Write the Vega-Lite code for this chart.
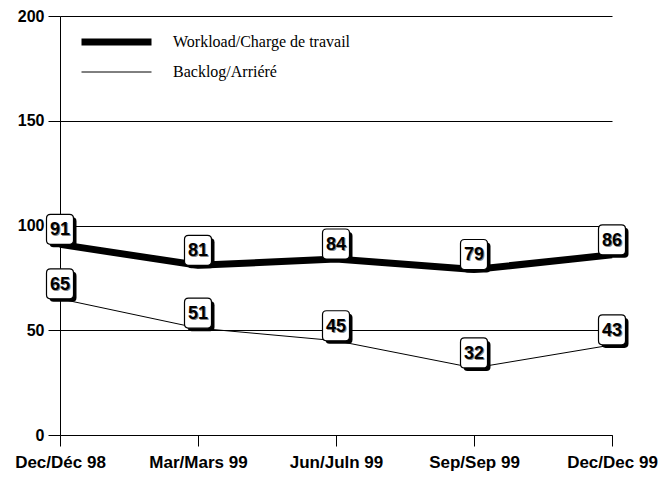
{
  "$schema": "https://vega.github.io/schema/vega-lite/v6.json",
  "width": 552,
  "height": 419,
  "autosize": "none",
  "padding": {"left": 60, "top": 16, "right": 60, "bottom": 42},
  "background": "white",
  "config": {
    "view": {"stroke": null},
    "axis": {"domainColor": "black", "tickColor": "black", "gridColor": "black", "gridOpacity": 1, "domainWidth": 1, "tickWidth": 1, "gridWidth": 1}
  },
  "data": {
    "values": [
      {"date": "Dec/Déc 98", "series": "Workload/Charge de travail", "value": 91},
      {"date": "Mar/Mars 99", "series": "Workload/Charge de travail", "value": 81},
      {"date": "Jun/Juln 99", "series": "Workload/Charge de travail", "value": 84},
      {"date": "Sep/Sep 99", "series": "Workload/Charge de travail", "value": 79},
      {"date": "Dec/Dec 99", "series": "Workload/Charge de travail", "value": 86},
      {"date": "Dec/Déc 98", "series": "Backlog/Arriéré", "value": 65},
      {"date": "Mar/Mars 99", "series": "Backlog/Arriéré", "value": 51},
      {"date": "Jun/Juln 99", "series": "Backlog/Arriéré", "value": 45},
      {"date": "Sep/Sep 99", "series": "Backlog/Arriéré", "value": 32},
      {"date": "Dec/Dec 99", "series": "Backlog/Arriéré", "value": 43}
    ]
  },
  "encoding": {
    "x": {
      "field": "date", "type": "ordinal",
      "sort": ["Dec/Déc 98", "Mar/Mars 99", "Jun/Juln 99", "Sep/Sep 99", "Dec/Dec 99"],
      "scale": {"type": "point", "padding": 0},
      "axis": {"title": null, "labelAngle": 0, "labelFont": "Liberation Sans", "labelFontWeight": "bold", "labelFontSize": 17, "labelColor": "black", "tickSize": 11, "labelPadding": 8, "grid": false}
    },
    "y": {
      "field": "value", "type": "quantitative",
      "scale": {"domain": [0, 200]},
      "axis": {"title": null, "values": [0, 50, 100, 150, 200], "labelFont": "Liberation Sans", "labelFontWeight": "bold", "labelFontSize": 16, "labelColor": "black", "tickSize": 12, "labelPadding": 4, "grid": true}
    }
  },
  "layer": [
    {
      "mark": {"type": "line", "color": "black", "strokeCap": "butt", "strokeJoin": "miter"},
      "encoding": {
        "detail": {"field": "series"},
        "strokeWidth": {
          "field": "series", "type": "nominal",
          "scale": {"domain": ["Workload/Charge de travail", "Backlog/Arriéré"], "range": [7, 1]},
          "legend": {
            "title": null, "orient": "none", "legendX": 18, "legendY": 11,
            "symbolType": "stroke", "symbolSize": 4900, "symbolStrokeColor": "black",
            "labelFont": "Liberation Serif", "labelFontSize": 16, "labelColor": "black", "labelLimit": 400,
            "labelOffset": 18, "padding": 0, "rowPadding": 0, "clipHeight": 30
          }
        }
      }
    },
    {
      "mark": {"type": "point", "shape": "M -0.63,-1 L 0.63,-1 Q 0.9,-1 0.9,-0.73 L 0.9,0.73 Q 0.9,1 0.63,1 L -0.63,1 Q -0.9,1 -0.9,0.73 L -0.9,-0.73 Q -0.9,-1 -0.63,-1 Z", "size": 900, "filled": true, "fill": "black", "opacity": 1, "xOffset": 3, "yOffset": -12}
    },
    {
      "mark": {"type": "point", "shape": "M -0.63,-1 L 0.63,-1 Q 0.9,-1 0.9,-0.73 L 0.9,0.73 Q 0.9,1 0.63,1 L -0.63,1 Q -0.9,1 -0.9,0.73 L -0.9,-0.73 Q -0.9,-1 -0.63,-1 Z", "size": 900, "filled": true, "fill": "white", "stroke": "black", "strokeWidth": 1.2, "opacity": 1, "yOffset": -15}
    },
    {
      "mark": {"type": "text", "font": "Liberation Sans", "fontWeight": "bold", "fontSize": 18, "color": "#888888", "baseline": "middle", "align": "center", "xOffset": 1, "yOffset": -13},
      "encoding": {"text": {"field": "value", "type": "quantitative"}}
    },
    {
      "mark": {"type": "text", "font": "Liberation Sans", "fontWeight": "bold", "fontSize": 18, "color": "black", "baseline": "middle", "align": "center", "yOffset": -14},
      "encoding": {"text": {"field": "value", "type": "quantitative"}}
    }
  ]
}
